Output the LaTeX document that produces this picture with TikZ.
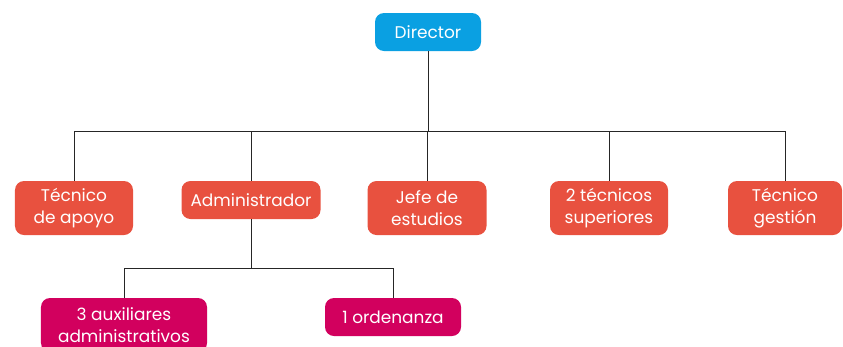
\documentclass[tikz,border=0pt]{standalone}
\usepackage{fontspec}
\setmainfont{Poppins}
\definecolor{cblue}{HTML}{0AA0E2}
\definecolor{cred}{HTML}{E8513F}
\definecolor{cmag}{HTML}{D2005E}
\begin{document}
\begin{tikzpicture}[x=1bp,y=-1bp,
  box/.style={rounded corners=9bp, text=white, align=center, inner sep=0pt,
    font=\fontsize{17}{22}\selectfont},
  bluebox/.style={box, fill=cblue},
  redbox/.style={box, fill=cred},
  magbox/.style={box, fill=cmag},
  conn/.style={draw=black!85, line width=0.9bp}]
\useasboundingbox (0,0) rectangle (843,346);
\node[bluebox, minimum width=106bp, minimum height=38bp] (dir) at (428,32) {Director};
\node[redbox, minimum width=118bp, minimum height=54bp] (t1) at (74,208) {Técnico\\de apoyo};
\node[redbox, minimum width=139bp, minimum height=38bp] (t2) at (251,200) {Administrador};
\node[redbox, minimum width=119bp, minimum height=54bp] (t3) at (427,208) {Jefe de\\estudios};
\node[redbox, minimum width=118bp, minimum height=54bp] (t4) at (609,208) {2 técnicos\\superiores};
\node[redbox, minimum width=114bp, minimum height=54bp] (t5) at (785,208) {Técnico\\gestión};
\node[magbox, minimum width=166bp, minimum height=54bp] (b1) at (124,325) {3 auxiliares\\administrativos};
\node[magbox, minimum width=136bp, minimum height=38bp] (b2) at (393,317) {1 ordenanza};
\coordinate (bus) at (428,131);
\coordinate (bus2) at (251,268);
\draw[conn] (dir.south) -- (bus);
\draw[conn] (t1.north) -- (t1.north |- bus) -- (t5.north |- bus) -- (t5.north);
\draw[conn] (t2.north) -- (t2.north |- bus);
\draw[conn] (t3.north) -- (t3.north |- bus);
\draw[conn] (t4.north) -- (t4.north |- bus);
\draw[conn] (t2.south) -- (bus2);
\draw[conn] (b1.north) -- (b1.north |- bus2) -- (b2.north |- bus2) -- (b2.north);
\end{tikzpicture}
\end{document}
